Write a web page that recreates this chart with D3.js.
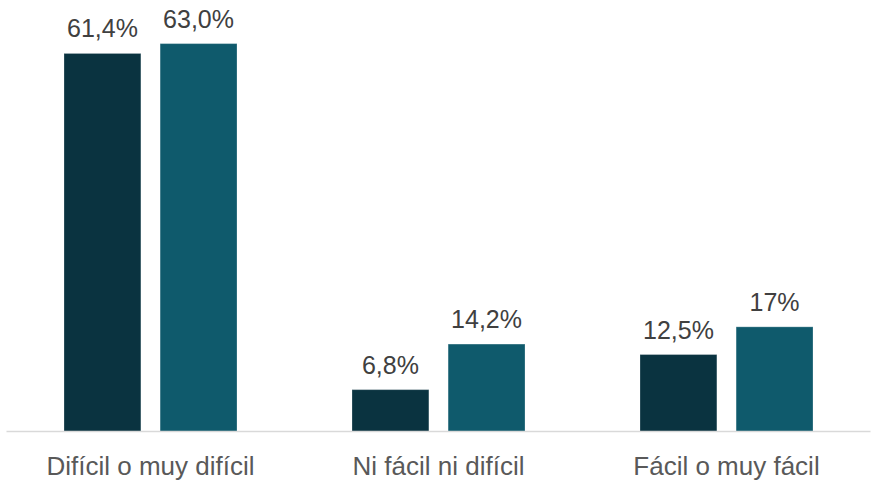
<!DOCTYPE html>
<html>
<head>
    <meta charset="utf-8">
    <title>Bar Chart</title>
    <script src="https://d3js.org/d3.v7.min.js"></script>
    <style>
        body { margin: 0; padding: 0; background: #fff; }
    </style>
</head>
<body>
    <div id="chart"></div>

    <script>
// Data
const categories = ["Difícil o muy difícil", "Ni fácil ni difícil", "Fácil o muy fácil"];
const series = ["s1", "s2"];
const valuesS1 = [61.4, 6.8, 12.5];
const valuesS2 = [63.0, 14.2, 17];
const labelsS1 = ["61,4%", "6,8%", "12,5%"];
const labelsS2 = ["63,0%", "14,2%", "17%"];
const colors = ["#0a3340", "#0f5a6c"];

const width = 876;
const height = 486;
const baseline = 431.5;

const svg = d3.select("#chart")
  .append("svg")
    .attr("width", width)
    .attr("height", height)
    .style("font-family", "Liberation Sans, Arial, sans-serif");

const x0 = d3.scaleBand()
  .domain(categories)
  .range([6.5, 870.5]);

// bar positions inside one group (offset from group start)
const x1 = d3.scaleBand()
  .domain(series)
  .range([57.5, 230.5])
  .paddingInner(0.2);

const y = d3.scaleLinear()
  .domain([0, 70])
  .range([baseline, baseline - 431]);

const rows = categories.map((c, i) => ({
  cat: c,
  bars: [
    { s: "s1", v: valuesS1[i], label: labelsS1[i] },
    { s: "s2", v: valuesS2[i], label: labelsS2[i] }
  ]
}));

const groups = svg.selectAll("g.grp")
  .data(rows)
  .join("g")
    .attr("class", "grp")
    .attr("transform", d => `translate(${x0(d.cat)}, 0)`);

groups.selectAll("rect")
  .data(d => d.bars)
  .join("rect")
    .attr("x", d => x1(d.s))
    .attr("y", d => y(d.v))
    .attr("width", x1.bandwidth())
    .attr("height", d => baseline - y(d.v))
    .attr("fill", (d, i) => colors[i])
    .attr("stroke", "#ffffff")
    .attr("stroke-opacity", 0.25)
    .attr("stroke-width", 1);

groups.selectAll("text.val")
  .data(d => d.bars)
  .join("text")
    .attr("class", "val")
    .attr("x", d => x1(d.s) + x1.bandwidth() / 2)
    .attr("y", d => y(d.v) - 16)
    .attr("text-anchor", "middle")
    .attr("fill", "#404040")
    .style("font-size", "25px")
    .text(d => d.label);

// Axis line
svg.append("line")
  .attr("x1", 6.5)
  .attr("x2", 870.5)
  .attr("y1", baseline)
  .attr("y2", baseline)
  .attr("stroke", "#d9d9d9")
  .attr("stroke-width", 1.5);

// Category labels
svg.selectAll("text.cat")
  .data(categories)
  .join("text")
    .attr("class", "cat")
    .attr("x", d => x0(d) + x0.bandwidth() / 2)
    .attr("y", 474.5)
    .attr("text-anchor", "middle")
    .attr("fill", "#595959")
    .style("font-size", "26px")
    .text(d => d);
    </script>
</body>
</html>
